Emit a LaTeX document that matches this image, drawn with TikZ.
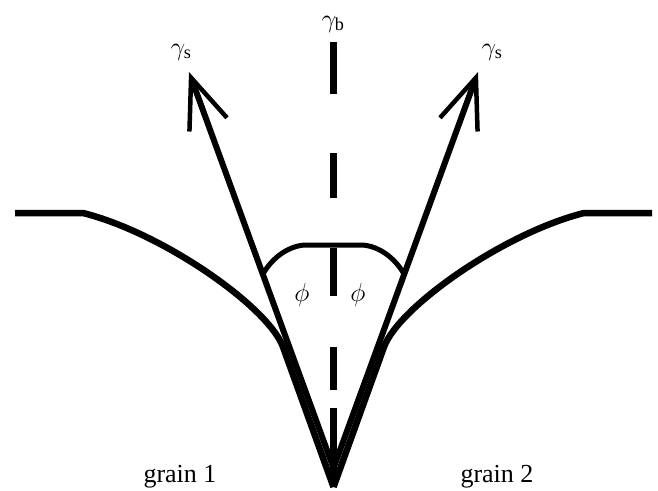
\documentclass[tikz,border=0pt]{standalone}
\usepackage{fix-cm}
\usepackage{fontspec}
\setmainfont{Liberation Serif}
\usetikzlibrary{arrows.meta}

\begin{document}
\begin{tikzpicture}[x=1pt, y=-1pt,
  surface/.style={line width=6.5pt, line join=round},
  force/.style={line width=6pt, -{Straight Barb[length=50pt, width=40pt, line width=4.5pt]}},
  lbl/.style={font=\fontsize{26}{30}\selectfont, inner sep=0pt}]
  \useasboundingbox (0,0) rectangle (658,490);

  % grain root and the tips of the two tension arrows
  \coordinate (root) at (333.5,468);
  \coordinate (tipL) at (189,72);
  \coordinate (tipR) at (478,72);

  % free surfaces of grain 1 and grain 2
  \draw[surface] (15,213) -- (83,213) .. controls (163,233) and (268.4,307) .. (283,347) -- (333.5,487);
  \draw[surface] (652,213) -- (584,213) .. controls (504,233) and (398.6,307) .. (384,347) -- (333.5,487);

  % grain boundary, dashes set by hand
  \foreach \a/\b in {42/94, 153/198, 248/296, 347/390, 408/487} {
    \draw[line width=7pt] (333.5,\a) -- (333.5,\b);
  }

  % dihedral angle
  \draw[line width=5pt] (263,274) .. controls (272,258) and (288,246) .. (305,245)
    -- (362,245) .. controls (379,246) and (395,258) .. (404,274);

  % surface tensions
  \draw[force] (root) -- (tipL);
  \draw[force] (root) -- (tipR);

  \node[lbl] (gsL) at (181,52) {$\gamma_{\mathrm{s}}$};
  \node[lbl] (gb) at (333,24) {$\gamma_{\mathrm{b}}$};
  \node[lbl] (gsR) at (492,52) {$\gamma_{\mathrm{s}}$};
  \node[lbl] (phiL) at (302,295) {$\phi$};
  \node[lbl] (phiR) at (358,295) {$\phi$};
  \node[lbl, anchor=base] (grainL) at (180,482) {grain 1};
  \node[lbl, anchor=base] (grainR) at (497,482) {grain 2};
\end{tikzpicture}
\end{document}
